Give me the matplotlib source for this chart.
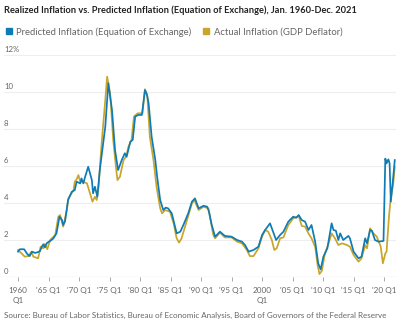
import matplotlib

matplotlib.use("Agg")
import matplotlib.pyplot as plt
from matplotlib.lines import Line2D

# Quarterly dates (decimal years) and inflation in percent
pred_t = [1960.0, 1960.3, 1961.0, 1961.5, 1961.9, 1962.3, 1962.8, 1963.3, 1963.6, 1963.9,
          1964.15, 1964.4, 1964.7, 1965.0, 1965.3, 1965.8, 1966.3, 1966.8, 1967.2, 1967.4,
          1967.7, 1968.2, 1968.8, 1969.3, 1969.6, 1970.2, 1970.4, 1970.7, 1971.0, 1971.5,
          1972.1, 1972.3, 1972.6, 1973.0, 1973.4, 1974.3, 1974.8, 1975.4, 1975.9, 1976.4,
          1977.0, 1977.5, 1977.8, 1978.4, 1978.8, 1979.2, 1979.7, 1980.3, 1980.8, 1981.1,
          1981.4, 1981.9, 1982.5, 1982.8, 1983.3, 1983.8, 1984.2, 1984.6, 1985.2, 1985.6,
          1986.0, 1986.6, 1987.1, 1987.9, 1988.5, 1989.0, 1989.6, 1990.4, 1991.0, 1991.3,
          1991.75, 1992.3, 1993.1, 1993.9, 1995.0, 1995.9, 1996.7, 1997.2, 1997.8, 1998.6,
          1999.4, 2000.0, 2000.5, 2001.3, 2001.7, 2002.3, 2002.95, 2003.5, 2004.3, 2005.1,
          2005.6, 2006.0, 2006.5, 2007.05, 2007.6, 2008.1, 2008.7, 2009.2, 2009.6, 2010.05,
          2010.7, 2011.4, 2011.7, 2012.1, 2012.5, 2012.8, 2013.3, 2014.15, 2014.4, 2015.0,
          2015.8, 2016.3, 2016.9, 2017.2, 2017.7, 2018.0, 2018.5, 2019.1, 2019.9, 2020.2,
          2020.4, 2020.7, 2020.9, 2021.1, 2021.4, 2021.75]
pred_v = [1.37, 1.5, 1.5, 1.25, 1.13, 1.37, 1.3, 1.35, 1.4, 1.64,
          1.77, 1.6, 1.82, 1.9, 1.95, 2.09, 2.36, 3.26, 3.08, 2.81,
          3.0, 4.16, 4.6, 4.7, 5.15, 5.06, 5.33, 5.06, 5.42, 5.96,
          5.24, 4.52, 4.88, 4.34, 5.78, 8.12, 10.47, 9.03, 6.86, 5.78,
          6.32, 6.69, 6.5, 7.31, 7.41, 8.67, 8.76, 8.76, 10.1, 9.9,
          9.4, 7.58, 6.32, 5.42, 4.16, 3.62, 3.75, 3.71, 3.44, 2.9,
          2.36, 2.45, 2.81, 3.44, 4.07, 4.25, 3.71, 3.85, 3.8, 3.53,
          2.81, 2.18, 2.45, 2.22, 2.18, 2.0, 1.91, 1.73, 1.37, 1.46,
          1.64, 2.27, 2.54, 2.9, 2.54, 2.0, 2.27, 2.45, 2.99, 3.26,
          3.2, 3.35, 3.08, 2.99, 2.54, 2.81, 1.91, 0.74, 0.41, 1.1,
          1.55, 2.9, 2.54, 2.5, 2.0, 2.36, 2.0, 2.22, 2.09, 1.37,
          1.01, 1.1, 2.09, 1.82, 2.54, 2.5, 2.0, 1.91, 1.95, 6.4,
          6.14, 6.36, 6.14, 4.07, 5.06, 6.32]

act_t = [1960.0, 1960.5, 1961.1, 1961.7, 1962.2, 1962.5, 1963.3, 1963.7, 1964.15, 1964.4,
         1964.8, 1965.25, 1966.1, 1966.6, 1966.9, 1967.4, 1968.0, 1968.25, 1969.1, 1969.3,
         1969.6, 1969.9, 1970.2, 1970.7, 1971.3, 1971.8, 1972.2, 1972.6, 1972.9, 1973.2,
         1973.7, 1974.3, 1974.6, 1975.1, 1975.6, 1976.1, 1976.3, 1976.7, 1977.3, 1977.7,
         1978.1, 1978.6, 1979.0, 1979.6, 1980.0, 1980.4, 1980.8, 1981.2, 1981.6, 1982.2,
         1982.7, 1983.3, 1983.6, 1984.1, 1984.9, 1985.5, 1986.0, 1986.4, 1986.8, 1987.7,
         1988.5, 1988.9, 1989.6, 1990.4, 1991.2, 1991.6, 1992.0, 1992.3, 1993.1, 1993.9,
         1995.0, 1995.9, 1996.7, 1997.5, 1998.0, 1998.6, 1999.4, 2000.0, 2000.5, 2001.0,
         2001.6, 2002.0, 2002.4, 2002.95, 2003.5, 2004.3, 2005.1, 2006.0, 2006.5, 2007.05,
         2007.6, 2008.1, 2008.7, 2009.1, 2009.4, 2009.8, 2010.3, 2010.9, 2011.4, 2011.95,
         2012.5, 2013.1, 2013.9, 2014.4, 2015.0, 2015.8, 2016.3, 2016.9, 2017.2, 2017.7,
         2018.25, 2018.8, 2019.45, 2019.8, 2020.2, 2020.4, 2020.8, 2021.05, 2021.5, 2021.75]
act_v = [1.46, 1.3, 1.1, 1.13, 1.37, 1.1, 1.01, 1.64, 1.55, 1.78,
         1.5, 2.0, 2.27, 3.26, 3.35, 2.72, 3.62, 4.25, 4.7, 5.15,
         5.28, 5.51, 5.15, 5.15, 5.06, 4.52, 4.07, 4.34, 4.16, 4.88,
         7.22, 9.57, 10.83, 9.93, 7.41, 5.78, 5.24, 5.42, 6.32, 6.5,
         7.04, 7.41, 8.67, 8.85, 8.85, 8.85, 10.15, 9.75, 7.58, 6.32,
         4.88, 3.71, 3.44, 3.62, 3.53, 2.9, 2.09, 1.86, 2.09, 3.08,
         3.98, 4.16, 3.62, 3.8, 3.71, 3.0, 2.27, 2.09, 2.4, 2.14,
         2.14, 1.91, 1.82, 1.46, 1.13, 1.13, 1.55, 2.18, 2.54, 2.45,
         2.0, 1.46, 1.55, 2.09, 2.14, 2.81, 3.17, 3.3, 2.76, 2.72,
         2.36, 2.09, 1.64, 0.65, 0.16, 0.34, 1.28, 1.82, 2.36, 2.09,
         1.73, 1.82, 1.73, 1.64, 1.19, 0.83, 1.01, 1.73, 1.55, 2.63,
         2.36, 2.18, 1.64, 0.74, 1.28, 1.37, 3.26, 4.16, 5.06, 5.96]

y_ticks = [0, 2, 4, 6, 8, 10, 12]
y_labels = ["0", "2", "4", "6", "8", "10", "12%"]
x_ticks = list(range(1960, 2021, 5))
x_labels = ["1960\nQ1", "'65 Q1", "'70 Q1", "'75 Q1", "'80 Q1", "'85 Q1", "'90 Q1",
            "'95 Q1", "2000\nQ1", "'05 Q1", "'10 Q1", "'15 Q1", "'20 Q1"]

BLUE = "#0f7bb5"
GOLD = "#c9a52a"
GREY = "#666666"

plt.rcParams["font.family"] = ["Lato", "DejaVu Sans"]

W, H = 403, 322
fig = plt.figure(figsize=(W / 100, H / 100), dpi=100)
ax = fig.add_axes([4 / W, 1 - 277 / H, 392 / W, (277 - 51.3) / H])

ax.plot(act_t, act_v, color=GOLD, lw=1.25, solid_joinstyle="round")
ax.plot(pred_t, pred_v, color=BLUE, lw=1.25, solid_joinstyle="round")

ax.set_xlim(1957.7, 2021.95)
ax.set_ylim(0, 12.2)

for spine in ax.spines.values():
    spine.set_visible(False)
ax.axhline(0, color="#999999", lw=0.8, zorder=0)
for v in y_ticks[1:]:
    ax.axhline(v, color="#eeeeee", lw=0.8, zorder=0)
for v, lab in zip(y_ticks, y_labels):
    ax.text(0.0, v + 0.15, lab, transform=ax.get_yaxis_transform(), fontsize=5.6,
            color=GREY, ha="left", va="baseline")

ax.set_yticks([])
ax.set_xticks(x_ticks)
ax.set_xticklabels(x_labels, fontsize=5.9, color=GREY, linespacing=1.5, va="top")
ax.tick_params(axis="x", length=3, width=0.6, color="#999999", pad=4)

fig.text(4 / W, 1 - 13 / H, "Realized Inflation vs. Predicted Inflation (Equation of Exchange), Jan. 1960-Dec. 2021",
         fontsize=6.7, fontweight="bold", color="#222222", ha="left", va="baseline")

handles = [
    Line2D([], [], marker="s", ls="none", color=BLUE, markersize=4.5),
    Line2D([], [], marker="s", ls="none", color=GOLD, markersize=4.5),
]
fig.legend(handles, ["Predicted Inflation (Equation of Exchange)", "Actual Inflation (GDP Deflator)"],
           loc="center left", bbox_to_anchor=(1 / W, 1 - 32 / H), ncol=2, frameon=False,
           fontsize=6.8, labelcolor=GREY, handlelength=0.8, handletextpad=0.4,
           columnspacing=1.2, borderaxespad=0)

fig.text(4 / W, 1 - 315 / H,
         "Source: Bureau of Labor Statistics, Bureau of Economic Analysis, Board of Governors of the Federal Reserve",
         fontsize=5.75, color=GREY, ha="left", va="center")

fig.savefig("out.png", dpi=100)
